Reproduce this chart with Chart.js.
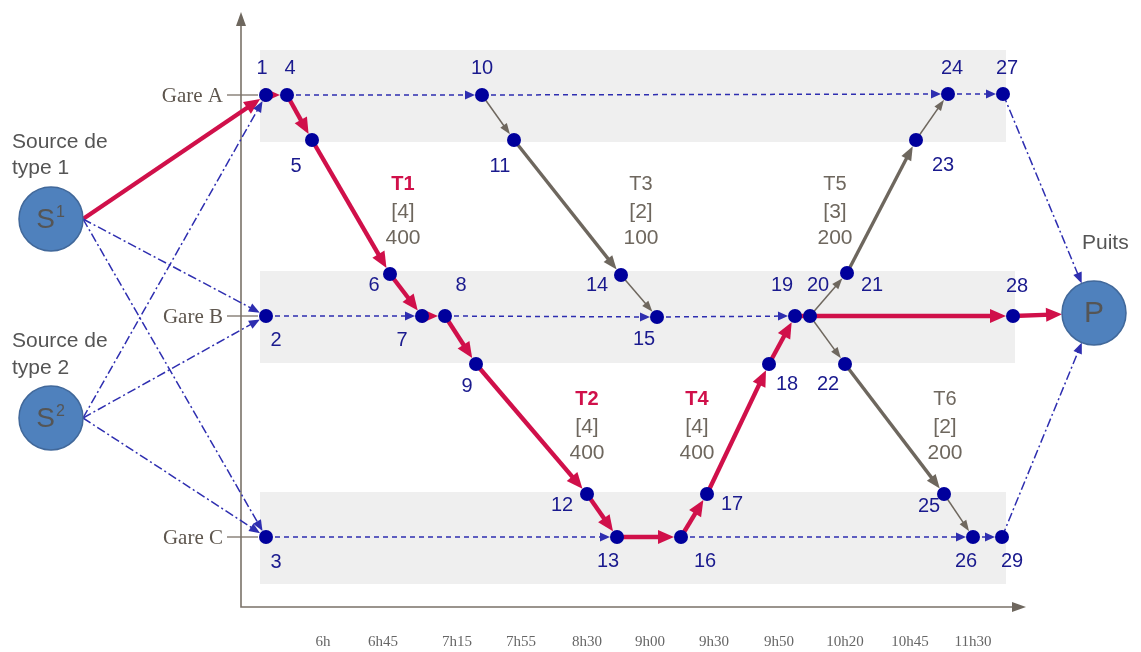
<!DOCTYPE html>
<html>
<head>
<meta charset="utf-8">
<script src="https://cdn.jsdelivr.net/npm/chart.js@4.4.0/dist/chart.umd.min.js"></script>
<style>
  html, body { margin: 0; padding: 0; background: #fff; }
  canvas { display: block; }
</style>
</head>
<body>
<canvas id="c" width="1141" height="652"></canvas>
<script>
// nodes of the time-space network (x = time position, y = station row)
const nodeIds = [1, 2, 3, 4, 5, 6, 7, 8, 9, 10, 11, 12, 13, 14, 15, 16, 17, 18, 19, 20, 21, 22, 23, 24, 25, 26, 27, 28, 29];
const nodeX = [266, 266, 266, 287, 312, 390, 422, 445, 476, 482, 514, 587, 617, 621, 657, 681, 707, 769, 795, 810, 847, 845, 916, 948, 944, 973, 1003, 1013, 1002];
const nodeY = [95, 316, 537, 95, 140, 274, 316, 316, 364, 95, 140, 494, 537, 275, 317, 537, 494, 364, 316, 316, 273, 364, 140, 94, 494, 537, 94, 316, 537];

// sources and sink
const circleNames = ['S1', 'S2', 'P'];
const circleX = [51, 51, 1094];
const circleY = [219, 418, 313];

// stations and time ticks
const stationNames = ['Gare A', 'Gare B', 'Gare C'];
const stationY = [95, 316, 537];
const timeLabels = ['6h', '6h45', '7h15', '7h55', '8h30', '9h00', '9h30', '9h50', '10h20', '10h45', '11h30'];
const timeTickX = [323, 383, 457, 521, 587, 650, 714, 779, 845, 910, 973];

// trains
const trainNames = ['T1', 'T2', 'T3', 'T4', 'T5', 'T6'];
const trainCapacity = [4, 4, 2, 4, 3, 2];
const trainCost = [400, 400, 100, 400, 200, 200];
const trainUsed = [true, true, false, true, false, false];

// arcs
const redEdges = [['S1', 1], [1, 4], [4, 5], [5, 6], [6, 7], [7, 8], [8, 9], [9, 12], [12, 13], [13, 16], [16, 17], [17, 18], [18, 19], [19, 20], [20, 28], [28, 'P']];
const grayThickEdges = [[11, 14], [21, 23], [22, 25]];
const grayThinEdges = [[10, 11], [14, 15], [20, 21], [23, 24], [20, 22], [25, 26]];
const waitEdges = [[4, 10], [10, 24], [24, 27], [2, 7], [8, 15], [15, 19], [3, 13], [16, 26], [26, 29]];
const sourceSinkEdges = [['S1', 2], ['S1', 3], ['S2', 1], ['S2', 2], ['S2', 3], [27, 'P'], [29, 'P']];

// layout only
const nodeLabelOffset = {
  1: [-4, -27], 2: [10, 24], 3: [10, 25], 4: [3, -27], 5: [-16, 26], 6: [-16, 11], 7: [-20, 24], 8: [16, -31],
  9: [-9, 22], 10: [0, -27], 11: [-14, 26], 12: [-25, 11], 13: [-9, 24], 14: [-24, 10], 15: [-13, 22], 16: [24, 24],
  17: [25, 10], 18: [18, 20], 19: [-13, -31], 20: [8, -31], 21: [25, 12], 22: [-17, 20], 23: [27, 25], 24: [4, -26],
  25: [-15, 12], 26: [-7, 24], 27: [4, -26], 28: [4, -30], 29: [10, 24]
};
const trainLabelX = [403, 587, 641, 697, 835, 945];
const trainLabelY = [184, 399, 184, 399, 184, 399];

const NODE_R = 7, CIRCLE_R = 32;
const RED = '#d0104a', GRAY = '#6e675e', BLUE = '#00009c', DASHBLUE = '#2e2eb0';

function pos(id) {
  const ci = circleNames.indexOf(id);
  if (ci >= 0) return { x: circleX[ci], y: circleY[ci], circle: true };
  const i = nodeIds.indexOf(id);
  return { x: nodeX[i], y: nodeY[i], circle: false };
}

function edgeDataset(a, b, style) {
  const pa = pos(a), pb = pos(b);
  let sx = pa.x, sy = pa.y;
  if (pa.circle) sx = pa.x + CIRCLE_R;
  let dx = pb.x - sx, dy = pb.y - sy;
  const d = Math.hypot(dx, dy);
  dx /= d; dy /= d;
  const r = pb.circle ? CIRCLE_R : NODE_R;
  const tipX = pb.x - dx * r, tipY = pb.y - dy * r;
  let ex = pb.x, ey = pb.y;
  if (style.arrow) {
    ex = tipX - dx * style.arrow[0] * 0.7;
    ey = tipY - dy * style.arrow[0] * 0.7;
  } else if (pb.circle) {
    ex = tipX; ey = tipY;
  }
  return {
    data: [{ x: sx, y: sy }, { x: ex, y: ey }],
    showLine: true,
    pointRadius: 0,
    pointHoverRadius: 0,
    borderColor: style.color,
    borderWidth: style.width,
    borderDash: style.dash || [],
    borderCapStyle: 'butt',
    order: 2,
    arrowHead: style.arrow ? { x: tipX, y: tipY, dx, dy, len: style.arrow[0], w: style.arrow[1], color: style.color } : null
  };
}

const datasets = [];
waitEdges.forEach(e => datasets.push(edgeDataset(e[0], e[1], { color: DASHBLUE, width: 1.5, dash: [5, 4], arrow: [10, 9] })));
sourceSinkEdges.forEach(e => datasets.push(edgeDataset(e[0], e[1], { color: DASHBLUE, width: 1.5, dash: [9, 3, 2, 3], arrow: [11, 9] })));
grayThinEdges.forEach(e => datasets.push(edgeDataset(e[0], e[1], { color: GRAY, width: 1.5, arrow: [11, 8] })));
grayThickEdges.forEach(e => datasets.push(edgeDataset(e[0], e[1], { color: GRAY, width: 3.4, arrow: [14, 11] })));
redEdges.forEach(e => {
  const noArrow = e[0] === 19 && e[1] === 20;
  datasets.push(edgeDataset(e[0], e[1], { color: RED, width: 4.4, arrow: noArrow ? null : [16, 14] }));
});

datasets.push({
  data: circleNames.map((n, i) => ({ x: circleX[i], y: circleY[i] })),
  pointRadius: CIRCLE_R,
  pointHoverRadius: CIRCLE_R,
  pointBackgroundColor: '#4f81bd',
  pointBorderColor: '#41689a',
  pointBorderWidth: 1.5,
  order: 1
});
datasets.push({
  data: nodeIds.map((id, i) => ({ x: nodeX[i], y: nodeY[i] })),
  pointRadius: NODE_R,
  pointHoverRadius: NODE_R,
  pointBackgroundColor: BLUE,
  pointBorderWidth: 0,
  order: 0
});

const SANS = 'Arial, "Liberation Sans", sans-serif';
const SERIF = '"Times New Roman", "Liberation Serif", serif';

const backdrop = {
  id: 'backdrop',
  beforeDatasetsDraw(chart) {
    const { ctx, scales: { x, y } } = chart;
    const X = v => x.getPixelForValue(v), Y = v => y.getPixelForValue(v);
    ctx.save();
    // station bands
    ctx.fillStyle = '#efefef';
    const bandRight = [1006, 1015, 1006];
    stationY.forEach((sy, i) => {
      ctx.fillRect(X(260), Y(sy - 45), X(bandRight[i]) - X(260), Y(sy + 47) - Y(sy - 45));
    });
    // axes
    ctx.strokeStyle = '#7a7268';
    ctx.fillStyle = '#6e675e';
    ctx.lineWidth = 1.6;
    ctx.beginPath();
    ctx.moveTo(X(241), Y(24)); ctx.lineTo(X(241), Y(607)); ctx.lineTo(X(1014), Y(607));
    ctx.stroke();
    ctx.beginPath();
    ctx.moveTo(X(241), Y(12)); ctx.lineTo(X(236), Y(26)); ctx.lineTo(X(246), Y(26)); ctx.closePath(); ctx.fill();
    ctx.beginPath();
    ctx.moveTo(X(1026), Y(607)); ctx.lineTo(X(1012), Y(602)); ctx.lineTo(X(1012), Y(612)); ctx.closePath(); ctx.fill();
    // station ticks and names
    ctx.lineWidth = 1.3;
    ctx.strokeStyle = '#7a7268';
    ctx.font = '21px ' + SERIF;
    ctx.textAlign = 'right';
    ctx.textBaseline = 'middle';
    ctx.fillStyle = '#5e564e';
    stationNames.forEach((n, i) => {
      ctx.beginPath();
      ctx.moveTo(X(227), Y(stationY[i])); ctx.lineTo(X(258), Y(stationY[i])); ctx.stroke();
      ctx.fillText(n, X(223), Y(stationY[i] + 1));
    });
    // time labels
    ctx.font = '15px ' + SERIF;
    ctx.textAlign = 'center';
    ctx.fillStyle = '#666';
    timeLabels.forEach((t, i) => ctx.fillText(t, X(timeTickX[i]), Y(642)));
    ctx.restore();
  },
  afterDatasetDraw(chart, args) {
    const ds = chart.data.datasets[args.index];
    if (!ds.arrowHead) return;
    const a = ds.arrowHead;
    const { ctx, scales: { x, y } } = chart;
    const tx = x.getPixelForValue(a.x), ty = y.getPixelForValue(a.y);
    const bx = tx - a.dx * a.len, by = ty - a.dy * a.len;
    const px = -a.dy * a.w / 2, py = a.dx * a.w / 2;
    ctx.save();
    ctx.fillStyle = a.color;
    ctx.beginPath();
    ctx.moveTo(tx, ty);
    ctx.lineTo(bx + px, by + py);
    ctx.lineTo(bx - px, by - py);
    ctx.closePath();
    ctx.fill();
    ctx.restore();
  },
  afterDatasetsDraw(chart) {
    const { ctx, scales: { x, y } } = chart;
    const X = v => x.getPixelForValue(v), Y = v => y.getPixelForValue(v);
    ctx.save();
    ctx.textBaseline = 'middle';
    ctx.textAlign = 'center';
    // node numbers
    ctx.font = '20px ' + SANS;
    ctx.fillStyle = '#1a1a8e';
    nodeIds.forEach((id, i) => {
      const o = nodeLabelOffset[id];
      ctx.fillText(String(id), X(nodeX[i] + o[0]), Y(nodeY[i] + o[1]));
    });
    // train labels
    trainNames.forEach((t, i) => {
      const lx = X(trainLabelX[i]), ly = Y(trainLabelY[i]);
      ctx.font = (trainUsed[i] ? 'bold ' : '') + '20px ' + SANS;
      ctx.fillStyle = trainUsed[i] ? RED : '#6e675e';
      ctx.fillText(t, lx, ly);
      ctx.font = '21px ' + SANS;
      ctx.fillStyle = '#6e675e';
      ctx.fillText('[' + trainCapacity[i] + ']', lx, ly + 28);
      ctx.fillText(String(trainCost[i]), lx, ly + 54);
    });
    // source / sink labels
    ctx.fillStyle = '#555';
    ctx.textAlign = 'left';
    ctx.font = '21px ' + SANS;
    ctx.fillText('Source de', X(12), Y(142));
    ctx.fillText('type 1', X(12), Y(168));
    ctx.fillText('Source de', X(12), Y(341));
    ctx.fillText('type 2', X(12), Y(368));
    ctx.fillText('Puits', X(1082), Y(243));
    // circle captions
    ctx.fillStyle = '#555';
    [['S', '1', 0], ['S', '2', 1]].forEach(([s, sup, i]) => {
      ctx.font = '28px ' + SANS;
      ctx.textAlign = 'right';
      ctx.fillText(s, X(circleX[i] + 4), Y(circleY[i] + 1));
      ctx.font = '16px ' + SANS;
      ctx.textAlign = 'left';
      ctx.fillText(sup, X(circleX[i] + 5), Y(circleY[i] - 6));
    });
    ctx.font = '30px ' + SANS;
    ctx.textAlign = 'center';
    ctx.fillText('P', X(circleX[2]), Y(circleY[2] + 1));
    ctx.restore();
  }
};

new Chart(document.getElementById('c'), {
  type: 'scatter',
  data: { datasets },
  options: {
    responsive: false,
    animation: false,
    layout: { padding: 0, autoPadding: false },
    plugins: { legend: { display: false }, tooltip: { enabled: false } },
    events: [],
    scales: {
      x: { type: 'linear', min: 0, max: 1141, display: false },
      y: { type: 'linear', min: 0, max: 652, reverse: true, display: false }
    }
  },
  plugins: [backdrop]
});
</script>
</body>
</html>
